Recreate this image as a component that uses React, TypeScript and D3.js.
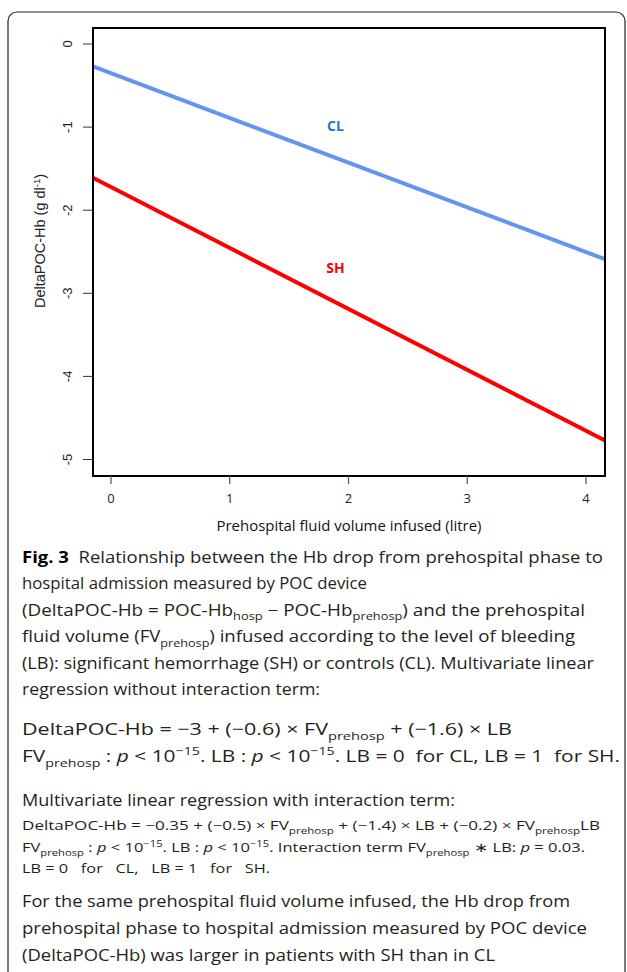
import React from "react";
import * as d3 from "d3";

// ---------- data ----------
const groups = ["CL", "SH"];
const groupColors = ["#6495ED", "#FF0000"];
const labelColors = ["#2E75B6", "#FF0000"];
const xEnds = [-0.152, 4.16];
const clValues = [-0.27, -2.59];
const shValues = [-1.61, -4.77];
const groupLabelPos = [
  { x: 1.89, y: -1.05 },
  { x: 1.89, y: -2.76 },
];
const xTicks = [0, 1, 2, 3, 4];
const yTicks = [0, -1, -2, -3, -4, -5];

type Seg = { t: string; sub?: boolean; sup?: boolean; b?: boolean; i?: boolean };

const captionLines: { segs: Seg[]; size: number; y: number; w: number }[] = [
  { size: 16, y: 562.5, w: 581, segs: [{ t: "Fig. 3", b: true }, { t: "  Relationship between the Hb drop from prehospital phase to" }] },
  { size: 16, y: 589, w: 345, segs: [{ t: "hospital admission measured by POC device" }] },
  { size: 16, y: 615.5, w: 563, segs: [{ t: "(DeltaPOC-Hb = POC-Hb" }, { t: "hosp", sub: true }, { t: " − POC-Hb" }, { t: "prehosp", sub: true }, { t: ") and the prehospital" }] },
  { size: 16, y: 642, w: 553, segs: [{ t: "fluid volume (FV" }, { t: "prehosp", sub: true }, { t: ") infused according to the level of bleeding" }] },
  { size: 16, y: 668.5, w: 572, segs: [{ t: "(LB): significant hemorrhage (SH) or controls (CL). Multivariate linear" }] },
  { size: 16, y: 695, w: 298, segs: [{ t: "regression without interaction term:" }] },
  { size: 17, y: 735, w: 490, segs: [{ t: "DeltaPOC-Hb = −3 + (−0.6) × FV" }, { t: "prehosp", sub: true }, { t: " + (−1.6) × LB" }] },
  { size: 17, y: 762, w: 598, segs: [{ t: "FV" }, { t: "prehosp", sub: true }, { t: " : " }, { t: "p", i: true }, { t: " < 10" }, { t: "−15", sup: true }, { t: ". LB : " }, { t: "p", i: true }, { t: " < 10" }, { t: "−15", sup: true }, { t: ". LB = 0  for CL, LB = 1  for SH." }] },
  { size: 16, y: 806, w: 433, segs: [{ t: "Multivariate linear regression with interaction term:" }] },
  { size: 12.5, y: 830, w: 578, segs: [{ t: "DeltaPOC-Hb = −0.35 + (−0.5) × FV" }, { t: "prehosp", sub: true }, { t: " + (−1.4) × LB + (−0.2) × FV" }, { t: "prehosp", sub: true }, { t: "LB" }] },
  { size: 12.5, y: 852, w: 563, segs: [{ t: "FV" }, { t: "prehosp", sub: true }, { t: " : " }, { t: "p", i: true }, { t: " < 10" }, { t: "−15", sup: true }, { t: ". LB : " }, { t: "p", i: true }, { t: " < 10" }, { t: "−15", sup: true }, { t: ". Interaction term FV" }, { t: "prehosp", sub: true }, { t: " ∗ LB: " }, { t: "p", i: true }, { t: " = 0.03." }] },
  { size: 13, y: 873, w: 248, segs: [{ t: "LB = 0   for   CL,   LB = 1   for   SH." }] },
  { size: 16, y: 907, w: 548, segs: [{ t: "For the same prehospital fluid volume infused, the Hb drop from" }] },
  { size: 16, y: 934, w: 565, segs: [{ t: "prehospital phase to hospital admission measured by POC device" }] },
  { size: 16, y: 961, w: 473, segs: [{ t: "(DeltaPOC-Hb) was larger in patients with SH than in CL" }] },
];

const W = 627;
const H = 972;
const frame = { left: 93, right: 605, top: 28, bottom: 476 };

const x = d3.scaleLinear().domain([0, 4]).range([111, 586]);
const y = d3.scaleLinear().domain([-5, 0]).range([459.5, 44]);

const line = d3
  .line<[number, number]>()
  .x((d) => x(d[0]))
  .y((d) => y(d[1]));

const series = [clValues, shValues];

const CAP_FONT = "'Open Sans', 'Noto Sans', sans-serif";
const CAL_FONT = "'Open Sans', 'Noto Sans', sans-serif";
const AX_FONT = "'Liberation Sans', Arial, sans-serif";

function CaptionLine({ segs, size, y: yy, w }: { segs: Seg[]; size: number; y: number; w: number }) {
  let prev = 0;
  return (
    <text
      x={22}
      y={yy}
      fontSize={size}
      fontFamily={CAP_FONT}
      fill="#231f20"
      textLength={w}
      lengthAdjust="spacingAndGlyphs"
      style={{ whiteSpace: "pre" }}
    >
      {segs.map((s, k) => {
        const off = s.sub ? size * 0.3 : s.sup ? -size * 0.4 : 0;
        const dy = off - prev;
        prev = off;
        return (
          <tspan
            key={k}
            dy={dy}
            fontSize={s.sub || s.sup ? size * 0.68 : size}
            fontWeight={s.b ? 700 : 400}
            fontStyle={s.i ? "italic" : "normal"}
            fill={s.b ? "#000" : undefined}
          >
            {s.t}
          </tspan>
        );
      })}
    </text>
  );
}

export default function App() {
  return (
    <div style={{ position: "absolute", left: 0, top: 0, width: W, height: H, background: "#fff" }}>
      <svg width={W} height={H} style={{ display: "block" }}>
        <rect x={0} y={0} width={W} height={H} fill="#fff" />
        {/* outer rounded box */}
        <rect x={8} y={12} width={617} height={980} rx={9} ry={9} fill="none" stroke="#222" strokeWidth={1.2} />

        <defs>
          <clipPath id="plotclip">
            <rect x={frame.left} y={frame.top} width={frame.right - frame.left} height={frame.bottom - frame.top} />
          </clipPath>
        </defs>

        {/* lines */}
        <g clipPath="url(#plotclip)">
          {groups.map((g, gi) => (
            <path
              key={g}
              d={line(xEnds.map((xv, k) => [xv, series[gi][k]] as [number, number])) || ""}
              fill="none"
              stroke={groupColors[gi]}
              strokeWidth={4}
            />
          ))}
        </g>

        {/* group labels */}
        {groups.map((g, gi) => (
          <text
            key={g}
            x={x(groupLabelPos[gi].x)}
            y={y(groupLabelPos[gi].y)}
            textAnchor="middle"
            fontFamily={CAL_FONT}
            fontWeight={700}
            fontSize={14}
            fill={labelColors[gi]}
          >
            {g}
          </text>
        ))}

        {/* frame */}
        <rect
          x={frame.left}
          y={frame.top}
          width={frame.right - frame.left}
          height={frame.bottom - frame.top}
          fill="none"
          stroke="#000"
          strokeWidth={2}
        />

        {/* y axis */}
        {yTicks.map((t) => (
          <g key={t}>
            <line x1={83} x2={frame.left} y1={y(t)} y2={y(t)} stroke="#333" strokeWidth={1} />
            <text
              transform={`translate(${72},${y(t)}) rotate(-90)`}
              textAnchor="middle"
              fontFamily={AX_FONT}
              fontSize={13}
              fill="#222"
            >
              {t}
            </text>
          </g>
        ))}
        <text
          transform={`translate(${45},${241}) rotate(-90)`}
          textAnchor="middle"
          fontFamily={AX_FONT}
          fontSize={14.5}
          fill="#222"
        >
          DeltaPOC-Hb (g dl
          <tspan fontSize={9.5} dy={-5}>-1</tspan>
          <tspan dy={5}>)</tspan>
        </text>

        {/* x axis */}
        {xTicks.map((t) => (
          <g key={t}>
            <line x1={x(t)} x2={x(t)} y1={frame.bottom} y2={484} stroke="#555" strokeWidth={1.2} />
            <text x={x(t)} y={503} textAnchor="middle" fontFamily={CAL_FONT} fontSize={13} fill="#222">
              {t}
            </text>
          </g>
        ))}
        <text
          x={(frame.left + frame.right) / 2}
          y={531}
          textAnchor="middle"
          fontFamily={CAL_FONT}
          fontSize={14}
          fill="#111"
          textLength={265}
          lengthAdjust="spacingAndGlyphs"
        >
          Prehospital fluid volume infused (litre)
        </text>

        {/* caption */}
        {captionLines.map((l, k) => (
          <CaptionLine key={k} segs={l.segs} size={l.size} y={l.y} w={l.w} />
        ))}
      </svg>
    </div>
  );
}
